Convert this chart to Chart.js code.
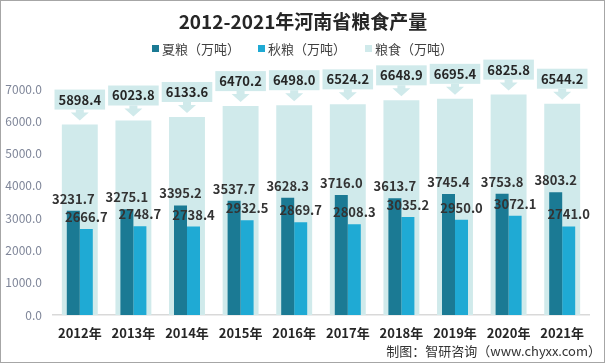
<!DOCTYPE html>
<html>
<head>
<meta charset="utf-8">
<script src="https://cdn.jsdelivr.net/npm/chart.js@4.4.1/dist/chart.umd.min.js"></script>
<style>
    body { margin: 0; background: #fff; }
</style>
</head>
<body>
<canvas id="grainChart" width="605" height="363"></canvas>
<script>
const years = ['2012年', '2013年', '2014年', '2015年', '2016年', '2017年', '2018年', '2019年', '2020年', '2021年'];
const summer = [3231.7, 3275.1, 3395.2, 3537.7, 3628.3, 3716.0, 3613.7, 3745.4, 3753.8, 3803.2];
const autumn = [2666.7, 2748.7, 2738.4, 2932.5, 2869.7, 2808.3, 3035.2, 2950.0, 3072.1, 2741.0];
const total = [5898.4, 6023.8, 6133.6, 6470.2, 6498.0, 6524.2, 6648.9, 6695.4, 6825.8, 6544.2];
const yTicks = [0, 1000, 2000, 3000, 4000, 5000, 6000, 7000];
const seriesNames = ['夏粮（万吨）', '秋粮（万吨）', '粮食（万吨）'];

const titleText = '2012-2021年河南省粮食产量';
const sourceText = '制图：智研咨询（www.chyxx.com）';

const DARK = '#1b7a94';
const BLUE = '#1faad4';
const PALE = '#d0eaeb';
const FONT = '"Noto Sans CJK SC", "Noto Sans", sans-serif';

// value labels + callout boxes for the total bars
const labelPlugin = {
    id: 'valueLabels',
    afterDatasetsDraw(chart) {
        const ctx = chart.ctx;
        ctx.save();
        ctx.font = 'bold 13px ' + FONT;
        ctx.textAlign = 'center';
        ctx.textBaseline = 'middle';

        chart.getDatasetMeta(2).data.forEach((bar, i) => {
            const txt = total[i].toFixed(1);
            const w = ctx.measureText(txt).width + 8;
            const bottom = bar.y - 15;
            const x = bar.x;
            ctx.fillStyle = PALE;
            ctx.fillRect(x - w / 2, bottom - 20, w, 20);
            ctx.beginPath();
            ctx.moveTo(x - 4, bottom);
            ctx.lineTo(x + 4, bottom);
            ctx.lineTo(x + 4, bottom + 3);
            ctx.lineTo(x + 9, bottom + 3);
            ctx.lineTo(x, bottom + 11);
            ctx.lineTo(x - 9, bottom + 3);
            ctx.lineTo(x - 4, bottom + 3);
            ctx.closePath();
            ctx.fill();
            ctx.fillStyle = '#262626';
            ctx.fillText(txt, x, bottom - 10);
        });

        ctx.fillStyle = '#333';
        [summer, autumn].forEach((vals, d) => {
            chart.getDatasetMeta(d).data.forEach((bar, i) => {
                ctx.fillText(vals[i].toFixed(1), bar.x, bar.y - 12);
            });
        });
        ctx.restore();
    },
};

// title, legend, source note, frame
const decoPlugin = {
    id: 'deco',
    afterDraw(chart) {
        const ctx = chart.ctx;
        ctx.save();
        ctx.fillStyle = '#262626';
        ctx.textAlign = 'center';
        ctx.textBaseline = 'middle';
        ctx.font = 'bold 19px ' + FONT;
        ctx.fillText(titleText, 303, 22);

        const colors = [DARK, BLUE, PALE];
        const markerX = [152, 258, 365];
        ctx.font = '13px ' + FONT;
        ctx.textAlign = 'left';
        seriesNames.forEach((name, i) => {
            ctx.fillStyle = colors[i];
            ctx.fillRect(markerX[i], 45, 7, 7);
            ctx.fillStyle = '#404040';
            ctx.fillText(name, markerX[i] + 10, 49);
        });

        ctx.textAlign = 'right';
        ctx.fillStyle = '#333';
        ctx.fillText(sourceText, 601, 351);

        ctx.strokeStyle = '#a6a6a6';
        ctx.lineWidth = 1;
        ctx.strokeRect(0.5, 0.5, 604, 362);
        ctx.restore();
    },
};

new Chart(document.getElementById('grainChart'), {
    type: 'bar',
    data: {
        labels: years,
        datasets: [
            {
                label: seriesNames[0],
                data: summer,
                backgroundColor: DARK,
                categoryPercentage: 0.485,
                barPercentage: 1,
            },
            {
                label: seriesNames[1],
                data: autumn,
                backgroundColor: BLUE,
                categoryPercentage: 0.485,
                barPercentage: 1,
            },
            {
                // total sits behind the pair, centred on the category
                label: seriesNames[2],
                data: total,
                backgroundColor: PALE,
                grouped: false,
                categoryPercentage: 1,
                barPercentage: 0.67,
            },
        ],
    },
    options: {
        responsive: false,
        animation: false,
        layout: { padding: { top: 89, right: 16, bottom: 0, left: 0 } },
        plugins: {
            legend: { display: false },
            title: { display: false },
            tooltip: { enabled: false },
        },
        scales: {
            x: {
                grid: { display: false, drawTicks: false },
                border: { display: true, color: '#d9d9d9', width: 1.5 },
                ticks: {
                    color: '#262626',
                    font: { family: FONT, size: 13, weight: 'bold' },
                    padding: 10,
                },
                afterFit: (scale) => { scale.height = 48; },
            },
            y: {
                min: 0,
                max: 7000,
                grid: { display: false, drawTicks: false },
                border: { display: false },
                afterBuildTicks: (scale) => { scale.ticks = yTicks.map((v) => ({ value: v })); },
                ticks: {
                    color: '#7f8699',
                    font: { family: FONT, size: 12 },
                    padding: 11,
                    callback: (v) => Number(v).toFixed(1),
                },
                afterFit: (scale) => { scale.width = 53; },
            },
        },
    },
    plugins: [labelPlugin, decoPlugin],
});
</script>
</body>
</html>
